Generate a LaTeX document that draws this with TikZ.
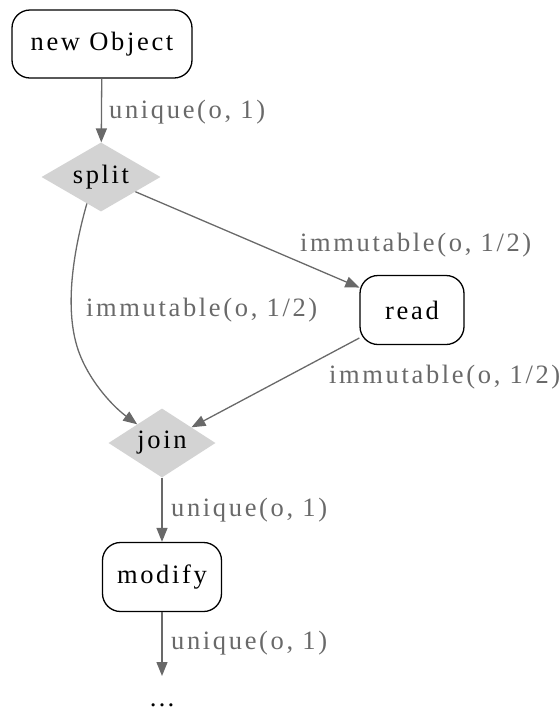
\documentclass[tikz,border=0pt]{standalone}
\usepackage{fontspec}
\setmainfont{Liberation Serif}[LetterSpace=10]
\usetikzlibrary{shapes.geometric,arrows.meta}
\definecolor{edgegray}{HTML}{696969}
\definecolor{diafill}{HTML}{D3D3D3}
\begin{document}
\begin{tikzpicture}[x=1pt,y=-1pt,
  every node/.style={font=\fontsize{26.5}{30}\selectfont},
  actbox/.style={draw=black,line width=1.3pt,rounded corners=18pt,inner sep=0pt,fill=white},
  choice/.style={diamond,fill=diafill,inner sep=0pt,minimum width=119pt,minimum height=69pt,aspect=1.72},
  edge/.style={draw=edgegray,line width=1.3pt,-{Triangle[length=14pt,width=11pt]}},
  elabel/.style={text=edgegray,anchor=west,inner sep=0pt}]
\useasboundingbox (0,0) rectangle (559,721);
\node[actbox,minimum width=180pt,minimum height=68pt] (new) at (102,44) {new Object};
\node[choice] (split) at (101,177) {split};
\node[actbox,minimum width=104pt,minimum height=69pt] (read) at (412,310) {read};
\node[choice,minimum width=107pt] (join) at (162,443) {join};
\node[actbox,minimum width=119pt,minimum height=69pt] (modify) at (162,577) {modify};
\node[inner sep=0pt] (dots) at (162,705) {…};
\coordinate (dotstop) at (162,676);

\draw[edge] (new) -- (split);
\draw[edge] (split) -- (read);
\draw[edge] (split.242) .. controls (75,245) and (62,310) .. (80,355) .. controls (92,385) and (115,408) .. (join.143);
\draw[edge] (read) -- (join);
\draw[edge] (join) -- (modify);
\draw[edge] (modify) -- (dotstop);

\node[elabel] (l1) at (109,112) {unique(o, 1)};
\node[elabel] (l2) at (300,245) {immutable(o, 1/2)};
\node[elabel] (l3) at (86,310) {immutable(o, 1/2)};
\node[elabel] (l4) at (329,377) {immutable(o, 1/2)};
\node[elabel] (l5) at (171,510) {unique(o, 1)};
\node[elabel] (l6) at (171,643) {unique(o, 1)};
\end{tikzpicture}
\end{document}
